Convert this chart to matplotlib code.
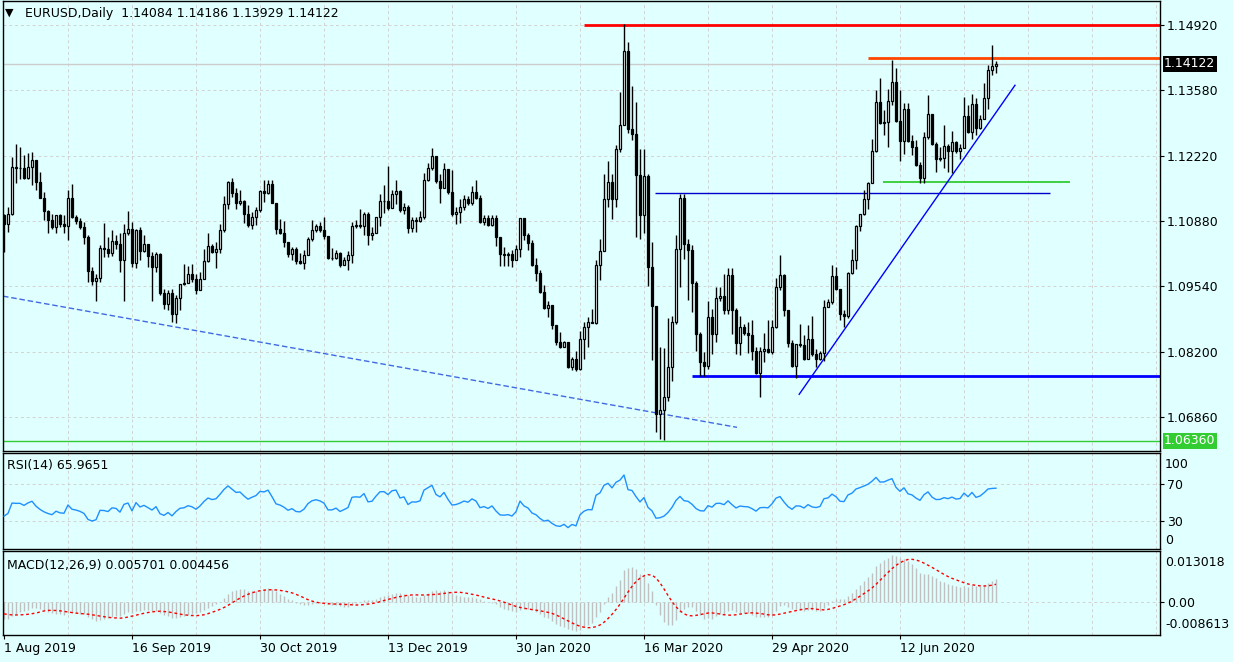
import numpy as np
import matplotlib
matplotlib.use('Agg')
import matplotlib.pyplot as plt
import matplotlib.transforms as mtransforms

# daily EURUSD bars (bar 0 = 1 Aug 2019)
first_open = 1.1101
closes = [
    1.1083, 1.1104, 1.1200, 1.1197, 1.1197, 1.1177, 1.1199, 1.1214, 1.1169, 1.1136,
    1.1109, 1.1090, 1.1076, 1.1100, 1.1083, 1.1079, 1.1137, 1.1097, 1.1089, 1.1076,
    1.1056, 1.0986, 1.0965, 1.0972, 1.1034, 1.1032, 1.1022, 1.1047, 1.1042, 1.1009,
    1.1063, 1.1073, 1.1002, 1.1071, 1.1027, 1.1041, 1.1017, 1.0993, 1.1020, 1.0940,
    1.0918, 1.0940, 1.0897, 1.0931, 1.0958, 1.0962, 1.0979, 1.0969, 1.0946, 1.0970,
    1.1006, 1.1037, 1.1025, 1.1032, 1.1071, 1.1123, 1.1168, 1.1147, 1.1125, 1.1129,
    1.1103, 1.1080, 1.1097, 1.1111, 1.1150, 1.1147, 1.1164, 1.1125, 1.1073, 1.1063,
    1.1046, 1.1020, 1.1030, 1.1006, 1.1003, 1.1018, 1.1052, 1.1071, 1.1078, 1.1071,
    1.1058, 1.1013, 1.1013, 1.1022, 1.0999, 1.1008, 1.1018, 1.1078, 1.1081, 1.1079,
    1.1103, 1.1059, 1.1063, 1.1096, 1.1129, 1.1130, 1.1116, 1.1144, 1.1150, 1.1111,
    1.1118, 1.1074, 1.1090, 1.1089, 1.1096, 1.1174, 1.1197, 1.1222, 1.1171, 1.1156,
    1.1195, 1.1149, 1.1103, 1.1107, 1.1118, 1.1133, 1.1125, 1.1149, 1.1135, 1.1087,
    1.1094, 1.1080, 1.1095, 1.1056, 1.1021, 1.1018, 1.1021, 1.1009, 1.1030, 1.1094,
    1.1059, 1.1043, 1.0999, 1.0982, 1.0942, 1.0910, 1.0915, 1.0874, 1.0839, 1.0829,
    1.0839, 1.0789, 1.0805, 1.0784, 1.0846, 1.0870, 1.0881, 1.0879, 1.0999, 1.1026,
    1.1133, 1.1169, 1.1133, 1.1236, 1.1287, 1.1439, 1.1278, 1.1267, 1.1184, 1.1100,
    1.1181, 1.0995, 1.0913, 1.0692, 1.0700, 1.0727, 1.0788, 1.0881, 1.1032, 1.1135,
    1.1041, 1.1028, 1.0961, 1.0857, 1.0798, 1.0791, 1.0892, 1.0857, 1.0930, 1.0934,
    1.0906, 1.0978, 1.0905, 1.0837, 1.0870, 1.0859, 1.0855, 1.0822, 1.0776, 1.0822,
    1.0826, 1.0819, 1.0870, 1.0953, 1.0978, 1.0906, 1.0837, 1.0791, 1.0836, 1.0834,
    1.0805, 1.0846, 1.0815, 1.0805, 1.0817, 1.0912, 1.0922, 1.0976, 1.0949, 1.0898,
    1.0894, 1.0982, 1.1009, 1.1078, 1.1103, 1.1133, 1.1167, 1.1232, 1.1333, 1.1291,
    1.1293, 1.1336, 1.1374, 1.1295, 1.1254, 1.1320, 1.1254, 1.1241, 1.1204, 1.1177,
    1.1261, 1.1309, 1.1248, 1.1217, 1.1219, 1.1243, 1.1232, 1.1252, 1.1232, 1.1238,
    1.1305, 1.1272, 1.1329, 1.1281, 1.1298, 1.1341, 1.1399, 1.14084, 1.14122,
]
highs = [
    1.1104, 1.1118, 1.1221, 1.1248, 1.1241, 1.1224, 1.1228, 1.1231, 1.1214, 1.1190,
    1.1149, 1.1111, 1.1104, 1.1102, 1.1103, 1.1101, 1.1152, 1.1164, 1.1102, 1.1094,
    1.1087, 1.1059, 1.0994, 1.0980, 1.1039, 1.1085, 1.1056, 1.1071, 1.1059, 1.1063,
    1.1083, 1.1109, 1.1087, 1.1073, 1.1076, 1.1059, 1.1039, 1.1025, 1.1025, 1.1022,
    1.0949, 1.0946, 1.0949, 1.0936, 1.0960, 1.1000, 1.0997, 1.1001, 1.0980, 1.0984,
    1.1032, 1.1063, 1.1042, 1.1046, 1.1083, 1.1140, 1.1171, 1.1178, 1.1156, 1.1152,
    1.1131, 1.1121, 1.1107, 1.1118, 1.1152, 1.1174, 1.1174, 1.1174, 1.1125, 1.1092,
    1.1089, 1.1046, 1.1035, 1.1035, 1.1022, 1.1028, 1.1056, 1.1090, 1.1083, 1.1087,
    1.1096, 1.1057, 1.1034, 1.1028, 1.1025, 1.1015, 1.1026, 1.1087, 1.1090, 1.1114,
    1.1107, 1.1107, 1.1077, 1.1097, 1.1145, 1.1162, 1.1202, 1.1152, 1.1174, 1.1152,
    1.1125, 1.1121, 1.1097, 1.1097, 1.1110, 1.1188, 1.1207, 1.1238, 1.1222, 1.1186,
    1.1207, 1.1195, 1.1193, 1.1118, 1.1133, 1.1142, 1.1140, 1.1160, 1.1174, 1.1142,
    1.1101, 1.1101, 1.1101, 1.1101, 1.1052, 1.1036, 1.1025, 1.1028, 1.1039, 1.1094,
    1.1094, 1.1063, 1.1049, 1.1013, 1.0987, 1.0956, 1.0925, 1.0915, 1.0874, 1.0860,
    1.0841, 1.0837, 1.0809, 1.0822, 1.0863, 1.0881, 1.0891, 1.0908, 1.1008, 1.1052,
    1.1185, 1.1212, 1.1185, 1.1245, 1.1355, 1.1494, 1.1456, 1.1366, 1.1334, 1.1236,
    1.1236, 1.1186, 1.1045, 1.0911, 1.0830, 1.0827, 1.0888, 1.0894, 1.1059, 1.1145,
    1.1145, 1.1052, 1.1039, 1.0966, 1.0860, 1.0819, 1.0925, 1.0908, 1.0953, 1.0953,
    1.0980, 1.0991, 1.0991, 1.0910, 1.0894, 1.0877, 1.0881, 1.0884, 1.0829, 1.0829,
    1.0858, 1.0885, 1.0885, 1.0972, 1.1018, 1.0980, 1.0906, 1.0843, 1.0836, 1.0876,
    1.0853, 1.0874, 1.0894, 1.0826, 1.0822, 1.0927, 1.0929, 1.0999, 1.0994, 1.0949,
    1.0905, 1.0984, 1.1030, 1.1080, 1.1104, 1.1153, 1.1169, 1.1258, 1.1359, 1.1382,
    1.1318, 1.1361, 1.1420, 1.1403, 1.1358, 1.1332, 1.1331, 1.1265, 1.1255, 1.1210,
    1.1272, 1.1348, 1.1307, 1.1252, 1.1241, 1.1286, 1.1248, 1.1274, 1.1254, 1.1247,
    1.1343, 1.1327, 1.1350, 1.1341, 1.1307, 1.1373, 1.1410, 1.1451, 1.14186,
]
lows = [
    1.1025, 1.1066, 1.1101, 1.1166, 1.1176, 1.1176, 1.1176, 1.1162, 1.1152, 1.1135,
    1.1090, 1.1063, 1.1073, 1.1064, 1.1076, 1.1063, 1.1050, 1.1094, 1.1083, 1.1073,
    1.1042, 1.0963, 1.0956, 1.0925, 1.0963, 1.1015, 1.1015, 1.1016, 1.1032, 1.0984,
    1.0925, 1.1059, 1.0994, 1.0991, 1.1008, 1.1025, 1.0995, 1.0925, 1.0984, 1.0936,
    1.0908, 1.0905, 1.0881, 1.0879, 1.0905, 1.0956, 1.0963, 1.0963, 1.0939, 1.0949,
    1.0970, 1.1004, 1.1022, 1.0991, 1.1022, 1.1066, 1.1113, 1.1138, 1.1114, 1.1121,
    1.1085, 1.1076, 1.1073, 1.1080, 1.1107, 1.1128, 1.1145, 1.1125, 1.1061, 1.1061,
    1.1035, 1.1015, 1.1009, 1.1001, 1.1001, 1.0989, 1.1018, 1.1048, 1.1066, 1.1066,
    1.1051, 1.1010, 1.1008, 1.1011, 1.0993, 1.0998, 1.0987, 1.1002, 1.1075, 1.1075,
    1.1059, 1.1040, 1.1050, 1.1064, 1.1078, 1.1105, 1.1111, 1.1121, 1.1123, 1.1107,
    1.1104, 1.1064, 1.1066, 1.1066, 1.1087, 1.1092, 1.1171, 1.1193, 1.1166, 1.1125,
    1.1156, 1.1145, 1.1099, 1.1083, 1.1085, 1.1111, 1.1121, 1.1121, 1.1133, 1.1085,
    1.1080, 1.1078, 1.1078, 1.1037, 1.0997, 1.0997, 1.0997, 1.0994, 1.1008, 1.1015,
    1.1049, 1.1028, 1.0997, 1.0965, 1.0940, 1.0908, 1.0891, 1.0867, 1.0833, 1.0828,
    1.0829, 1.0786, 1.0783, 1.0780, 1.0783, 1.0805, 1.0829, 1.0879, 1.0877, 1.0967,
    1.1035, 1.1118, 1.1092, 1.1118, 1.1231, 1.1287, 1.1269, 1.1255, 1.1056, 1.1052,
    1.1063, 1.0954, 1.0802, 1.0654, 1.0640, 1.0637, 1.0719, 1.0760, 1.0877, 1.0953,
    1.1011, 1.0927, 1.0901, 1.0822, 1.0769, 1.0769, 1.0784, 1.0815, 1.0839, 1.0925,
    1.0898, 1.0898, 1.0857, 1.0815, 1.0812, 1.0853, 1.0817, 1.0803, 1.0774, 1.0726,
    1.0798, 1.0817, 1.0815, 1.0869, 1.0946, 1.0894, 1.0829, 1.0789, 1.0766, 1.0830,
    1.0803, 1.0805, 1.0810, 1.0788, 1.0802, 1.0801, 1.0913, 1.0918, 1.0947, 1.0884,
    1.0870, 1.0888, 1.0980, 1.0990, 1.1068, 1.1100, 1.1114, 1.1166, 1.1231, 1.1289,
    1.1265, 1.1240, 1.1327, 1.1293, 1.1212, 1.1226, 1.1252, 1.1224, 1.1201, 1.1167,
    1.1167, 1.1258, 1.1245, 1.1190, 1.1213, 1.1197, 1.1190, 1.1188, 1.1228, 1.1217,
    1.1239, 1.1270, 1.1258, 1.1265, 1.1279, 1.1298, 1.1320, 1.1389, 1.13929,
]

date_ticks = [0, 32, 64, 96, 128, 160, 192, 224]
date_labels = ['1 Aug 2019', '16 Sep 2019', '30 Oct 2019', '13 Dec 2019',
               '30 Jan 2020', '16 Mar 2020', '29 Apr 2020', '12 Jun 2020']
price_ticks = [1.14920, 1.13580, 1.12220, 1.10880, 1.09540, 1.08200, 1.06860]

header = 'EURUSD,Daily  1.14084 1.14186 1.13929 1.14122'
rsi_title = 'RSI(14) 65.9651'
macd_title = 'MACD(12,26,9) 0.005701 0.004456'
bid_price = 1.14122
low_mark = 1.06360

# horizontal objects drawn on the chart: price, first bar, last bar
level_prices = [1.14920, 1.14247, 1.11453, 1.07695, 1.11680, 1.06360]
level_starts = [145, 216, 162.75, 172, 219.75, -1]
level_ends = [290, 290, 261.5, 290, 266.5, 290]
level_colors = ['#ff0000', '#ff4500', '#0000cd', '#0000ff', '#32cd32', '#32cd32']
level_widths = [2, 2, 1, 2, 1.3, 1]

# rising trendline and the long dashed line
trend_bars = [198.8, 252.75]
trend_prices = [1.0732, 1.1368]
dash_bars = [-0.25, 183.25]
dash_prices = [1.0934, 1.0664]

# indicator state just before the first visible bar (estimated from panel edges)
rsi_seed_gain, rsi_seed_loss = 0.0012, 0.0022
ema_seed_fast, ema_seed_slow = 1.1175, 1.1215
signal_seed = -0.0030

BG = '#e0ffff'
GRID = '#d2d2d2'
W, H = 1233, 662

c = np.array(closes)
o = np.array([first_open] + closes[:-1])
hi = np.maximum(np.array(highs), np.maximum(o, c))
lo = np.minimum(np.array(lows), np.minimum(o, c))
x = np.arange(len(c))

# RSI (Wilder)
g, l = rsi_seed_gain, rsi_seed_loss
rsi = [100 - 100 / (1 + g / l)]
for d in np.diff(c):
    g = (g * 13 + max(d, 0)) / 14
    l = (l * 13 + max(-d, 0)) / 14
    rsi.append(100 - 100 / (1 + g / l))

# MACD, signal = SMA(9) of main like MT4
ef, es = ema_seed_fast, ema_seed_slow
macd = []
for v in c:
    ef += (v - ef) * 2 / 13
    es += (v - es) * 2 / 27
    macd.append(ef - es)
padded = [signal_seed] * 8 + macd
signal = [np.mean(padded[i:i + 9]) for i in range(len(macd))]

fig = plt.figure(figsize=(W / 100, H / 100), dpi=100, facecolor=BG)
plt.rcParams['font.family'] = ['DejaVu Sans']


def panel(top, bottom):
    ax = fig.add_axes([3 / W, 1 - bottom / H, 1157 / W, (bottom - top) / H])
    ax.set_facecolor(BG)
    ax.set_xlim(-0.25, 289)
    for s in ax.spines.values():
        s.set_color('black')
        s.set_linewidth(1)
    for vx in range(16, 289, 16):
        ax.axvline(vx, color=GRID, lw=0.7, ls=(0, (3, 3)), zorder=0)
    ax.yaxis.tick_right()
    ax.tick_params(axis='y', length=3, pad=2, labelsize=9, colors='black')
    ax.tick_params(axis='x', bottom=False, labelbottom=False)
    return ax


# main price panel
ax = panel(1, 451)
ax.set_ylim(1.06153, 1.15414)
ax.set_yticks(price_ticks, [f'{p:.5f}' for p in price_ticks])
for p in price_ticks:
    ax.axhline(p, color=GRID, lw=0.7, ls=(0, (3, 3)), zorder=0)
ax.axhline(bid_price, color='#cccccc', lw=1, zorder=1)

ax.vlines(x, lo, hi, color='black', lw=1, zorder=3)
up = c >= o
ax.bar(x[up], c[up] - o[up], bottom=o[up], width=0.5, facecolor='white',
       edgecolor='black', lw=0.9, zorder=4)
ax.bar(x[~up], c[~up] - o[~up], bottom=o[~up], width=0.5, facecolor='black',
       edgecolor='black', lw=0.9, zorder=4)

for p, s, e, col, lw in zip(level_prices, level_starts, level_ends, level_colors, level_widths):
    ax.plot([s, e], [p, p], color=col, lw=lw, zorder=2, solid_capstyle='butt')
ax.plot(trend_bars, trend_prices, color='#0000ff', lw=1, zorder=2)
ax.plot(dash_bars, dash_prices, color='#4169e1', lw=1, ls=(0, (4, 2)), zorder=2)

blend = mtransforms.blended_transform_factory(ax.transAxes, ax.transData)
ax.text(1.0035, bid_price, f'{bid_price:.5f}', transform=blend, color='white',
        fontsize=9, va='center', ha='left',
        bbox=dict(boxstyle='square,pad=0.12', fc='black', ec='none'))
ax.text(1.0035, low_mark, f'{low_mark:.5f}', transform=blend, color='white',
        fontsize=9, va='center', ha='left',
        bbox=dict(boxstyle='square,pad=0.12', fc='#32cd32', ec='none'))

fig.text(5 / W, 1 - 13 / H, '\u25bc', fontsize=8, va='center', ha='left')
fig.text(25 / W, 1 - 14 / H, header, fontsize=9, va='center', ha='left')

# RSI panel
ar = panel(453, 549)
ar.set_ylim(-0.5, 104)
ar.set_yticks([70, 30], ['70', '30'])
for p in [70, 30]:
    ar.axhline(p, color=GRID, lw=0.7, ls=(0, (3, 3)), zorder=0)
ar.plot(x, rsi, color='#1e90ff', lw=1, zorder=3)
fig.text(7 / W, 1 - 466 / H, rsi_title, fontsize=9, va='center', ha='left')
fig.text(1165 / W, 1 - 464 / H, '100', fontsize=9, va='center', ha='left')
fig.text(1165 / W, 1 - 540 / H, '0', fontsize=9, va='center', ha='left')

# MACD panel
am = panel(551, 635)
am.set_ylim(-0.008613, 0.013018)
am.set_yticks([0], ['0.00'])
am.axhline(0, color=GRID, lw=0.7, ls=(0, (3, 3)), zorder=0)
am.vlines(x, 0, macd, color='#c0c0c0', lw=1, zorder=2)
am.plot(x, signal, color='#ff0000', lw=1, ls=(0, (2, 2)), zorder=3)
fig.text(7 / W, 1 - 565 / H, macd_title, fontsize=9, va='center', ha='left')
fig.text(1165 / W, 1 - 562 / H, '0.013018', fontsize=9, va='center', ha='left')
fig.text(1165 / W, 1 - 625 / H, '-0.008613', fontsize=9, va='center', ha='left')

am.tick_params(axis='x', bottom=True, labelbottom=True, length=3, pad=2, labelsize=9)
am.set_xticks(date_ticks, date_labels)
for t in am.get_xticklabels():
    t.set_ha('left')

fig.savefig('out.png', dpi=100, facecolor=BG)
